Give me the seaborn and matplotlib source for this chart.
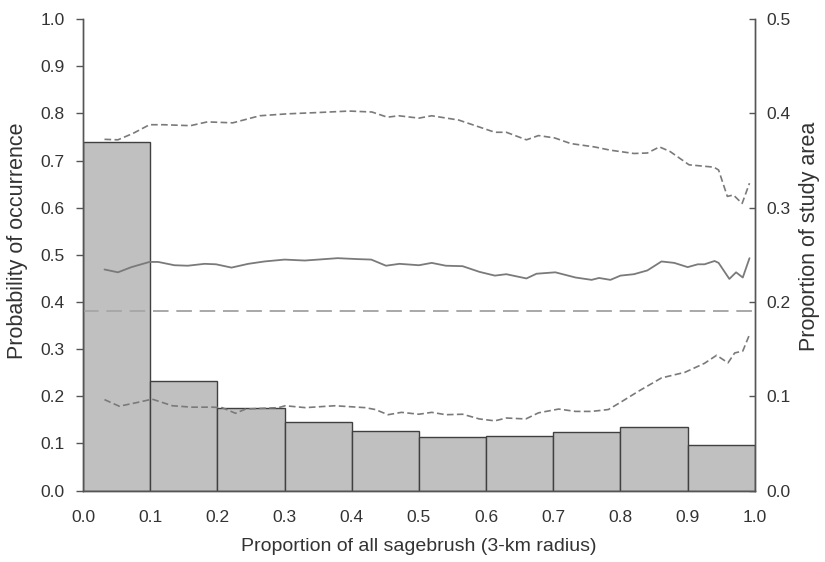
import matplotlib
matplotlib.use("Agg")
import matplotlib.pyplot as plt
import seaborn as sns
import numpy as np
import pandas as pd

sns.set_theme(style="white")
plt.rcParams['font.family'] = ['Liberation Sans', 'DejaVu Sans']

# ---- data ----
bin_edges = [0.0, 0.1, 0.2, 0.3, 0.4, 0.5, 0.6, 0.7, 0.8, 0.9, 1.0]
bin_centers = [0.05, 0.15, 0.25, 0.35, 0.45, 0.55, 0.65, 0.75, 0.85, 0.95]
area_prop = [0.370, 0.1163, 0.0873, 0.073, 0.0635, 0.057, 0.0575, 0.0625, 0.0675, 0.0485]

mean_x = [0.032, 0.052, 0.072, 0.099, 0.112, 0.136, 0.156, 0.181, 0.198, 0.221, 0.246,
          0.27, 0.30, 0.33, 0.35, 0.379, 0.409, 0.429, 0.451, 0.471, 0.50, 0.519, 0.54,
          0.565, 0.59, 0.613, 0.63, 0.66, 0.675, 0.703, 0.733, 0.757, 0.768, 0.785, 0.80,
          0.82, 0.84, 0.861, 0.88, 0.90, 0.915, 0.925, 0.94, 0.946, 0.962, 0.972, 0.982, 0.992]
mean_y = [0.469, 0.463, 0.474, 0.485, 0.485, 0.478, 0.477, 0.481, 0.480, 0.473, 0.481,
          0.486, 0.490, 0.488, 0.490, 0.493, 0.491, 0.490, 0.477, 0.481, 0.478, 0.483, 0.477,
          0.476, 0.464, 0.456, 0.459, 0.450, 0.460, 0.463, 0.452, 0.447, 0.451, 0.447, 0.456,
          0.459, 0.467, 0.486, 0.483, 0.474, 0.480, 0.480, 0.487, 0.483, 0.449, 0.463, 0.452, 0.493]

upper_x = [0.032, 0.052, 0.075, 0.099, 0.12, 0.16, 0.185, 0.223, 0.263, 0.303, 0.352,
           0.396, 0.43, 0.453, 0.47, 0.50, 0.519, 0.559, 0.613, 0.63, 0.66, 0.678, 0.702,
           0.726, 0.761, 0.785, 0.82, 0.84, 0.858, 0.874, 0.902, 0.939, 0.946, 0.959, 0.968,
           0.981, 0.992]
upper_y = [0.745, 0.744, 0.758, 0.776, 0.776, 0.774, 0.782, 0.780, 0.795, 0.799, 0.802,
           0.805, 0.803, 0.792, 0.795, 0.790, 0.795, 0.786, 0.760, 0.760, 0.744, 0.753, 0.748,
           0.736, 0.729, 0.722, 0.715, 0.716, 0.729, 0.719, 0.691, 0.686, 0.680, 0.624, 0.627,
           0.609, 0.652]

lower_x = [0.032, 0.054, 0.081, 0.103, 0.133, 0.162, 0.192, 0.207, 0.227, 0.242, 0.291,
           0.301, 0.331, 0.375, 0.42, 0.435, 0.454, 0.474, 0.50, 0.519, 0.54, 0.565, 0.59,
           0.613, 0.63, 0.659, 0.678, 0.708, 0.733, 0.757, 0.782, 0.802, 0.827, 0.861, 0.896,
           0.925, 0.943, 0.96, 0.97, 0.982, 0.992]
lower_y = [0.193, 0.179, 0.187, 0.194, 0.180, 0.177, 0.177, 0.176, 0.164, 0.173, 0.176,
           0.180, 0.176, 0.180, 0.176, 0.172, 0.161, 0.166, 0.162, 0.166, 0.161, 0.162, 0.152,
           0.148, 0.154, 0.152, 0.165, 0.173, 0.168, 0.168, 0.172, 0.189, 0.211, 0.239, 0.251,
           0.270, 0.287, 0.271, 0.292, 0.296, 0.331]

baseline_prob = 0.38

x_ticks = [0.0, 0.1, 0.2, 0.3, 0.4, 0.5, 0.6, 0.7, 0.8, 0.9, 1.0]
left_ticks = [0.0, 0.1, 0.2, 0.3, 0.4, 0.5, 0.6, 0.7, 0.8, 0.9, 1.0]
right_ticks = [0.0, 0.1, 0.2, 0.3, 0.4, 0.5]

# ---- figure ----
fig = plt.figure(figsize=(8.25, 5.62), dpi=100)
ax = fig.add_axes([0.1006, 0.127, 0.8144, 0.839])
ax2 = ax.twinx()

text_col = "#333333"
spine_col = "#555555"

# bars on right axis
sns.histplot(x=bin_centers, weights=area_prop, bins=bin_edges, ax=ax2,
             color="#c0c0c0", edgecolor="#404040", linewidth=1.0, alpha=1.0,
             stat="count", legend=False)

# lines on left axis
df_mean = pd.DataFrame({"x": mean_x, "y": mean_y})
df_up = pd.DataFrame({"x": upper_x, "y": upper_y})
df_lo = pd.DataFrame({"x": lower_x, "y": lower_y})
sns.lineplot(data=df_mean, x="x", y="y", ax=ax, color="#7a7a7a", linewidth=1.3, sort=False)
sns.lineplot(data=df_up, x="x", y="y", ax=ax, color="#7a7a7a", linewidth=1.2,
             linestyle=(0, (4, 2)), sort=False)
sns.lineplot(data=df_lo, x="x", y="y", ax=ax, color="#7a7a7a", linewidth=1.2,
             linestyle=(0, (4, 2)), sort=False)
ax.axhline(baseline_prob, color="#a8a8a8", linewidth=1.4, linestyle=(0, (8, 4)))

ax.set_zorder(ax2.get_zorder() + 1)
ax.patch.set_visible(False)

ax.set_xlim(0, 1)
ax.set_ylim(0, 1)
ax2.set_ylim(0, 0.5)
ax.set_xticks(x_ticks)
ax.set_xticklabels([f"{v:.1f}" for v in x_ticks])
ax.set_yticks(left_ticks)
ax.set_yticklabels([f"{v:.1f}" for v in left_ticks])
ax2.set_yticks(right_ticks)
ax2.set_yticklabels([f"{v:.1f}" for v in right_ticks])

ax.set_xlabel("Proportion of all sagebrush (3-km radius)", fontsize=14, color=text_col, labelpad=9)
ax.set_ylabel("Probability of occurrence", fontsize=15.5, color=text_col)
ax2.set_ylabel("Proportion of study area", fontsize=15.5, color=text_col)
ax.yaxis.set_label_coords(-0.082, 0.53)
ax2.yaxis.set_label_coords(1.066, 0.54)

for a in (ax, ax2):
    a.spines['top'].set_visible(False)
    for s in ('left', 'right', 'bottom'):
        a.spines[s].set_color(spine_col)
        a.spines[s].set_linewidth(1.0)

ax.tick_params(axis='x', direction='out', length=6, width=1, color=spine_col,
               labelsize=12.5, labelcolor=text_col, pad=8)
ax.tick_params(axis='y', direction='out', length=5, width=1, color=spine_col,
               labelsize=12.5, labelcolor=text_col, pad=8)
ax2.tick_params(axis='y', direction='in', length=4, width=1, color=spine_col,
                labelsize=12.5, labelcolor=text_col, pad=8)
ax2.grid(False)
ax.grid(False)

fig.savefig("out.png", dpi=100)
